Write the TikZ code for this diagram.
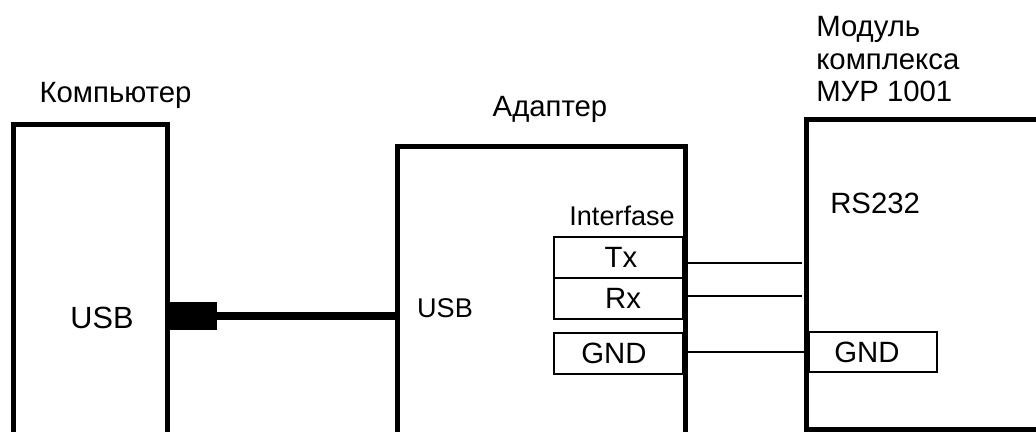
\documentclass[tikz,border=0pt]{standalone}
\usepackage{fontspec}
\setmainfont{Liberation Sans}
\usetikzlibrary{calc}
\def\u{0.75pt}
\begin{document}
\begin{tikzpicture}[x=0.75pt,y=-0.75pt,
  bigbox/.style={draw, line width=5*\u, inner sep=0pt, outer sep=0pt},
  pinbox/.style={draw, line width=2*\u, inner sep=0pt, outer sep=0pt,
    minimum width=129*\u, minimum height=41*\u},
  wire/.style={line width=2*\u},
  cable/.style={line width=8*\u},
  lbl/.style={inner sep=0pt, font=\fontsize{22}{26}\selectfont},
  txt/.style={inner sep=0pt, font=\fontsize{22}{26}\selectfont},
  bigtxt/.style={inner sep=0pt, font=\fontsize{23}{27}\selectfont},
  smalltxt/.style={inner sep=0pt, font=\fontsize{20.3}{24}\selectfont}]
\clip (0,0) rectangle (1036,432);
\fill[white] (0,0) rectangle (1036,432);
% main boxes
\node[bigbox, minimum width=154*\u, minimum height=330*\u] (comp) at (90.5,289.5) {};
\node[bigbox, minimum width=288*\u, minimum height=310*\u] (adapter) at (541.5,301.5) {};
\node[bigbox, minimum width=250*\u, minimum height=310*\u] (module) at (931,274) {};
% plug
\node[fill=black, inner sep=0pt, outer sep=0pt, minimum width=47*\u, minimum height=28*\u] (plug) at (193.5,316) {};
\draw[cable] (plug.east) -- (plug.east -| adapter.west);
% adapter pins
\node[pinbox] (tx) at (618.5,257.5) {};
\node[pinbox] (rx) at (618.5,298.5) {};
\node[pinbox] (gnda) at (618.5,353.5) {};
% module pin
\node[pinbox, minimum width=128*\u, minimum height=40*\u] (gndm) at (873,352) {};
% wires
\coordinate (txa) at ($(adapter.east |- tx.east)+(0,5.5)$);
\coordinate (rxa) at ($(adapter.east |- rx.east)+(0,-2.5)$);
\coordinate (gnd1) at ($(adapter.east |- gnda.east)+(0,-1.5)$);
\draw[wire, shorten >=4*\u] (txa) -- (txa -| module.west);
\draw[wire, shorten >=4*\u] (rxa) -- (rxa -| module.west);
\draw[wire] (gnd1) -- (gnd1 -| module.west);
% texts
\node[lbl, anchor=base] (lcomp) at (115.5,102) {Компьютер};
\node[lbl, anchor=base] (ladapt) at (550,116.5) {Адаптер};
\node[lbl, anchor=base west] (lmod1) at (816,36.5) {Модуль};
\node[lbl, anchor=base west] (lmod2) at (816,69) {комплекса};
\node[lbl, anchor=base west] (lmod3) at (816,101.5) {МУР 1001};
\node[bigtxt, anchor=base] (usbc) at (102,328) {USB};
\node[smalltxt, anchor=base] (usba) at (445,317) {USB};
\node[smalltxt, anchor=base east] (intf) at (675,225) {Interfase};
\node[txt, anchor=base] (ttx) at (621,267) {Tx};
\node[txt, anchor=base] (trx) at (623,308) {Rx};
\node[txt, anchor=base] (tgnda) at (614,363) {GND};
\node[txt, anchor=base west] (rs) at (830,213) {RS232};
\node[txt, anchor=base] (tgndm) at (867,362) {GND};
\end{tikzpicture}
\end{document}
